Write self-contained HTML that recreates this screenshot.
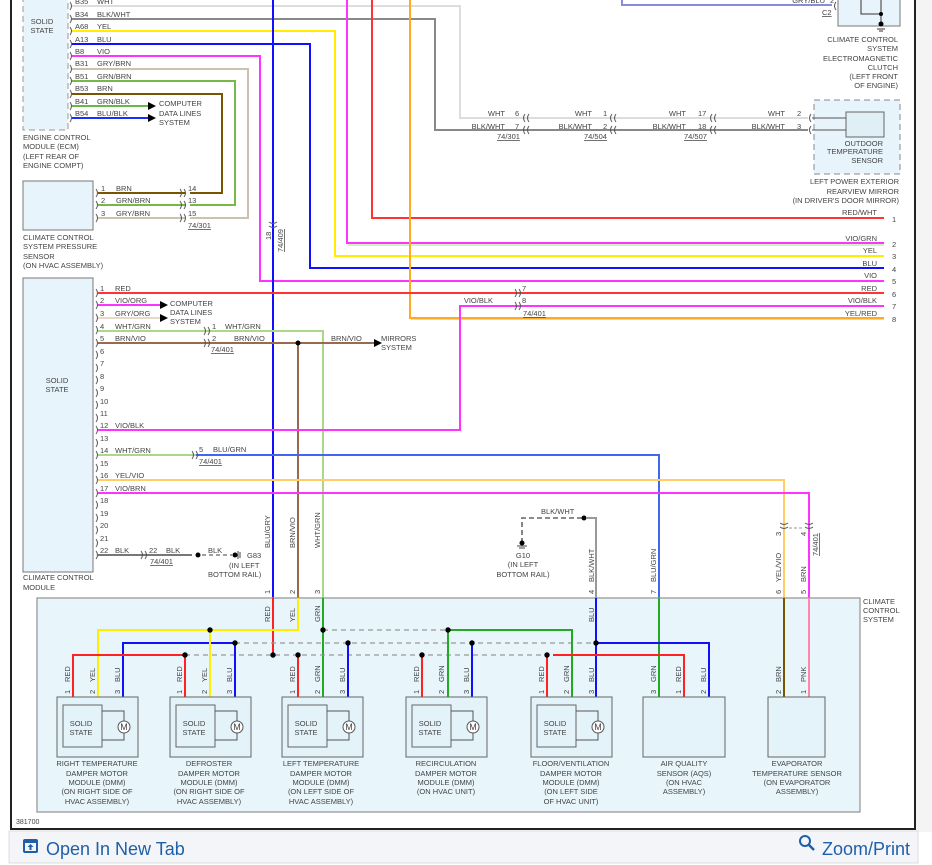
<!DOCTYPE html>
<html><head><meta charset="utf-8"><style>
html,body{margin:0;padding:0;background:#fff;width:932px;height:865px;overflow:hidden}
svg{display:block}
text{font-family:"Liberation Sans",sans-serif;font-size:7.5px;fill:#444}
.r{text-anchor:end}.m{text-anchor:middle}
.w{fill:none;stroke-width:2}
.c{fill:none;stroke:#555;stroke-width:1}
.d{fill:none;stroke:#999;stroke-width:1.3;stroke-dasharray:5,4}
.u{text-decoration:underline}
</style></head><body>
<svg width="932" height="865" viewBox="0 0 932 865" xmlns="http://www.w3.org/2000/svg">
<rect x="0" y="0" width="932" height="865" fill="#fff"/>
<rect x="915" y="0" width="17" height="832" fill="#f4f4f4"/>
<!-- frame -->
<path d="M11,0 V829 H915 V0" fill="none" stroke="#222" stroke-width="2"/>
<rect x="9" y="831" width="909" height="32" fill="#f3f5f9" stroke="#ddd"/>
<g fill="#1f5fa8"><rect x="24" y="840" width="13" height="12" rx="1" fill="none" stroke="#1f5fa8" stroke-width="2"/><rect x="24" y="840" width="13" height="3"/><path d="M30.5,844 l-3,3 h2 v3 h2 v-3 h2z"/></g>
<text x="46" y="855" style="font-size:18px;fill:#1f5fa8">Open In New Tab</text>
<circle cx="805" cy="841" r="5" fill="none" stroke="#1f5fa8" stroke-width="2"/><path d="M809,845 l5,5" stroke="#1f5fa8" stroke-width="2.5"/>
<text x="910" y="855" class="r" style="font-size:18px;fill:#1f5fa8">Zoom/Print</text>
<text x="16" y="824" style="font-size:7px">381700</text>

<!-- ECM -->
<rect x="23" y="-2" width="45" height="132" fill="#e8f4fb" stroke="#999" stroke-dasharray="6,4"/>
<text x="42" y="24" class="m">SOLID</text><text x="42" y="33" class="m">STATE</text>
<text x="23" y="140">ENGINE CONTROL</text><text x="23" y="149">MODULE (ECM)</text><text x="23" y="159">(LEFT REAR OF</text><text x="23" y="168">ENGINE COMPT)</text>
<!-- ECM wires -->
<path class="w" stroke="#ddd" d="M72,6 H460 V118 H808"/>
<path class="w" stroke="#888" d="M72,19 H435 V130 H808"/>
<path class="w" stroke="#ffee00" d="M72,31 H335 V256 H884"/>
<path class="w" stroke="#1010ff" d="M72,44 H310 V268 H884"/>
<path class="w" stroke="#ff33ff" d="M72,56 H260 V281 H884"/>
<path class="w" stroke="#cbc2b0" d="M72,69 H248 V218 H190"/>
<path class="w" stroke="#78b848" d="M72,81 H235 V205 H190"/>
<path class="w" stroke="#7a5500" d="M72,94 H222 V193 H190"/>
<path class="w" stroke="#66b848" d="M72,106 H148"/><path d="M148,102 l8,4 l-8,4z" fill="#000"/>
<path class="w" stroke="#1530ff" d="M72,118 H148"/><path d="M148,114 l8,4 l-8,4z" fill="#000"/>
<g class="c">
<path d="M70,2 q3,4 0,8"/><path d="M70,15 q3,4 0,8"/><path d="M70,27 q3,4 0,8"/><path d="M70,40 q3,4 0,8"/><path d="M70,52 q3,4 0,8"/><path d="M70,65 q3,4 0,8"/><path d="M70,77 q3,4 0,8"/><path d="M70,90 q3,4 0,8"/><path d="M70,102 q3,4 0,8"/><path d="M70,114 q3,4 0,8"/>
</g>
<text x="75" y="4">B35</text><text x="97" y="4">WHT</text>
<text x="75" y="17">B34</text><text x="97" y="17">BLK/WHT</text>
<text x="75" y="29">A68</text><text x="97" y="29">YEL</text>
<text x="75" y="42">A13</text><text x="97" y="42">BLU</text>
<text x="75" y="54">B8</text><text x="97" y="54">VIO</text>
<text x="75" y="66">B31</text><text x="97" y="66">GRY/BRN</text>
<text x="75" y="79">B51</text><text x="97" y="79">GRN/BRN</text>
<text x="75" y="91">B53</text><text x="97" y="91">BRN</text>
<text x="75" y="104">B41</text><text x="97" y="104">GRN/BLK</text>
<text x="75" y="116">B54</text><text x="97" y="116">BLU/BLK</text>
<text x="159" y="106">COMPUTER</text><text x="159" y="116">DATA LINES</text><text x="159" y="125">SYSTEM</text>

<!-- pressure sensor -->
<rect x="23" y="181" width="70" height="49" fill="#e8f4fb" stroke="#777"/>
<path class="w" stroke="#7a5500" d="M98,193 H186"/>
<path class="w" stroke="#78b848" d="M98,205 H186"/>
<path class="w" stroke="#cbc2b0" d="M98,218 H186"/>
<g class="c"><path d="M96,189 q3,4 0,8"/><path d="M96,201 q3,4 0,8"/><path d="M96,214 q3,4 0,8"/>
<path d="M180,189 q3,4 0,8 M184,189 q3,4 0,8"/><path d="M180,201 q3,4 0,8 M184,201 q3,4 0,8"/><path d="M180,214 q3,4 0,8 M184,214 q3,4 0,8"/></g>
<text x="101" y="191">1</text><text x="116" y="191">BRN</text>
<text x="101" y="203">2</text><text x="116" y="203">GRN/BRN</text>
<text x="101" y="216">3</text><text x="116" y="216">GRY/BRN</text>
<text x="188" y="191">14</text><text x="188" y="203">13</text><text x="188" y="216">15</text>
<text x="188" y="228" class="u">74/301</text>
<text x="23" y="240">CLIMATE CONTROL</text><text x="23" y="249">SYSTEM PRESSURE</text><text x="23" y="259">SENSOR</text><text x="23" y="268">(ON HVAC ASSEMBLY)</text>

<!-- long verticals from top -->
<path class="w" stroke="#1010ff" d="M273,0 V598"/>
<path class="c" d="M269,222 q4,3 8,0 M269,226 q4,3 8,0"/>
<text transform="translate(271,240) rotate(-90)">18</text>
<text transform="translate(283,252) rotate(-90)" class="u">74/409</text>
<path class="w" stroke="#ff33ff" d="M347,0 V243 H884"/>
<path stroke="#88dd66" stroke-width="0.8" d="M348,245 H884"/>
<path class="w" stroke="#ff3333" d="M372,0 V218 H884"/>
<path class="w" stroke="#ffaa22" d="M410,0 V318 H884"/>
<path stroke="#ffee00" stroke-width="1" d="M411,319.5 H884"/>
<!-- clutch -->
<path class="w" stroke="#8a8ae0" d="M622,0 V5 H832"/>
<text x="825" y="3" class="r">GRY/BLU</text><text x="830" y="3">2</text>
<path class="c" d="M836,2 q-3,4 0,8"/>
<text x="822" y="15" class="u">C2</text>
<rect x="838" y="-2" width="62" height="28" fill="#e8f4fb" stroke="#777"/>
<path d="M861,0 V14 H881 M881,-2 V22" stroke="#333" fill="none"/><circle cx="881" cy="14" r="2" fill="#000"/><circle cx="881" cy="24" r="2.5" fill="#000"/>
<path d="M877,29 h8 M879,31 h4" stroke="#333"/>
<text x="898" y="42" class="r">CLIMATE CONTROL</text><text x="898" y="51" class="r">SYSTEM</text><text x="898" y="61" class="r">ELECTROMAGNETIC</text><text x="898" y="70" class="r">CLUTCH</text><text x="898" y="79" class="r">(LEFT FRONT</text><text x="898" y="88" class="r">OF ENGINE)</text>

<!-- outdoor temp sensor chain -->
<g class="c">
<path d="M525,114 q-3,4 0,8 M529,114 q-3,4 0,8 M525,126 q-3,4 0,8 M529,126 q-3,4 0,8"/>
<path d="M612,114 q-3,4 0,8 M616,114 q-3,4 0,8 M612,126 q-3,4 0,8 M616,126 q-3,4 0,8"/>
<path d="M712,114 q-3,4 0,8 M716,114 q-3,4 0,8 M712,126 q-3,4 0,8 M716,126 q-3,4 0,8"/>
<path d="M811,114 q-3,4 0,8 M811,126 q-3,4 0,8"/>
</g>
<rect x="814" y="100" width="86" height="74" fill="#e8f4fb" stroke="#888" stroke-dasharray="6,4"/>
<rect x="846" y="112" width="38" height="25" fill="#e0eef6" stroke="#666"/>
<path d="M812,118 H846 M812,130 H846" stroke="#555"/>
<text x="505" y="116" class="r">WHT</text><text x="515" y="116">6</text><text x="505" y="129" class="r">BLK/WHT</text><text x="515" y="129">7</text><text x="497" y="139" class="u">74/301</text>
<text x="592" y="116" class="r">WHT</text><text x="603" y="116">1</text><text x="592" y="129" class="r">BLK/WHT</text><text x="603" y="129">2</text><text x="584" y="139" class="u">74/504</text>
<text x="686" y="116" class="r">WHT</text><text x="698" y="116">17</text><text x="686" y="129" class="r">BLK/WHT</text><text x="698" y="129">18</text><text x="684" y="139" class="u">74/507</text>
<text x="785" y="116" class="r">WHT</text><text x="797" y="116">2</text><text x="785" y="129" class="r">BLK/WHT</text><text x="797" y="129">3</text>
<text x="883" y="146" class="r">OUTDOOR</text><text x="883" y="154" class="r">TEMPERATURE</text><text x="883" y="163" class="r">SENSOR</text>
<text x="899" y="184" class="r">LEFT POWER EXTERIOR</text><text x="899" y="194" class="r">REARVIEW MIRROR</text><text x="899" y="203" class="r">(IN DRIVER'S DOOR MIRROR)</text>

<!-- right side labels -->
<text x="877" y="215" class="r">RED/WHT</text><text x="892" y="222">1</text>
<text x="877" y="241" class="r">VIO/GRN</text><text x="892" y="247">2</text>
<text x="877" y="253" class="r">YEL</text><text x="892" y="259">3</text>
<text x="877" y="266" class="r">BLU</text><text x="892" y="272">4</text>
<text x="877" y="278" class="r">VIO</text><text x="892" y="284">5</text>
<text x="877" y="291" class="r">RED</text><text x="892" y="297">6</text>
<text x="877" y="303" class="r">VIO/BLK</text><text x="892" y="309">7</text>
<text x="877" y="316" class="r">YEL/RED</text><text x="892" y="322">8</text>

<!-- CCM -->
<rect x="23" y="278" width="70" height="294" fill="#e8f4fb" stroke="#777"/>
<text x="57" y="383" class="m">SOLID</text><text x="57" y="392" class="m">STATE</text>
<text x="23" y="580">CLIMATE CONTROL</text><text x="23" y="590">MODULE</text>
<path class="w" stroke="#ff3333" d="M98,293 H884"/>
<path class="w" stroke="#ff33ff" d="M98,305 H162"/><path d="M160,301 l8,4 l-8,4z" fill="#000"/>
<path class="w" stroke="#e8d8c8" d="M98,318 H162"/><path d="M160,314 l8,4 l-8,4z" fill="#000"/>
<path class="w" stroke="#a8d888" d="M98,331 H323 V598"/>
<path class="w" stroke="#9a6a50" d="M98,343 H376"/><path d="M374,339 l8,4 l-8,4z" fill="#000"/>
<path class="w" stroke="#9a6a50" d="M298,343 V598"/><circle cx="298" cy="343" r="2.5" fill="#000"/>
<path class="w" stroke="#ff33ff" d="M98,430 H460 V306 H884"/>
<path class="w" stroke="#a8d888" d="M98,455 H196"/><path class="w" stroke="#4466ee" d="M196,455 H659 V598"/>
<path class="w" stroke="#ffcc66" d="M98,480 H784 V598"/>
<path class="w" stroke="#ff33ff" d="M98,493 H809 V598"/>
<path class="w" stroke="#777" d="M98,555 H192"/><circle cx="198" cy="555" r="2.5" fill="#000"/>
<path d="M202,555 H232" stroke="#666" stroke-width="1.3" stroke-dasharray="4,3"/><circle cx="235" cy="555" r="2.5" fill="#000"/><path d="M238,551 v8 M240,552 v6" stroke="#444"/>
<g class="c">
<path d="M96,289 q3,4 0,8 M96,301 q3,4 0,8 M96,314 q3,4 0,8 M96,326 q3,4 0,8 M96,339 q3,4 0,8 M96,351 q3,4 0,8 M96,364 q3,4 0,8 M96,376 q3,4 0,8 M96,389 q3,4 0,8 M96,401 q3,4 0,8 M96,414 q3,4 0,8 M96,426 q3,4 0,8 M96,439 q3,4 0,8 M96,451 q3,4 0,8 M96,464 q3,4 0,8 M96,476 q3,4 0,8 M96,489 q3,4 0,8 M96,501 q3,4 0,8 M96,514 q3,4 0,8 M96,526 q3,4 0,8 M96,539 q3,4 0,8 M96,551 q3,4 0,8"/>
<path d="M204,327 q3,4 0,8 M208,327 q3,4 0,8 M204,339 q3,4 0,8 M208,339 q3,4 0,8"/>
<path d="M192,451 q3,4 0,8 M196,451 q3,4 0,8"/>
<path d="M141,551 q3,4 0,8 M145,551 q3,4 0,8"/>
<path d="M515,289 q3,4 0,8 M519,289 q3,4 0,8 M515,302 q3,4 0,8 M519,302 q3,4 0,8"/>
</g>
<text x="100" y="291">1</text><text x="100" y="303">2</text><text x="100" y="316">3</text><text x="100" y="329">4</text><text x="100" y="341">5</text><text x="100" y="354">6</text><text x="100" y="366">7</text><text x="100" y="379">8</text><text x="100" y="391">9</text><text x="100" y="404">10</text><text x="100" y="416">11</text><text x="100" y="428">12</text><text x="100" y="441">13</text><text x="100" y="453">14</text><text x="100" y="466">15</text><text x="100" y="478">16</text><text x="100" y="491">17</text><text x="100" y="503">18</text><text x="100" y="516">19</text><text x="100" y="528">20</text><text x="100" y="541">21</text><text x="100" y="553">22</text>
<text x="115" y="291">RED</text><text x="115" y="303">VIO/ORG</text><text x="115" y="316">GRY/ORG</text><text x="115" y="329">WHT/GRN</text><text x="115" y="341">BRN/VIO</text><text x="115" y="428">VIO/BLK</text><text x="115" y="453">WHT/GRN</text><text x="115" y="478">YEL/VIO</text><text x="115" y="491">VIO/BRN</text><text x="115" y="553">BLK</text>
<text x="170" y="306">COMPUTER</text><text x="170" y="315">DATA LINES</text><text x="170" y="324">SYSTEM</text>
<text x="212" y="329">1</text><text x="225" y="329">WHT/GRN</text><text x="212" y="341">2</text><text x="234" y="341">BRN/VIO</text><text x="211" y="352" class="u">74/401</text>
<text x="331" y="341">BRN/VIO</text><text x="381" y="341">MIRRORS</text><text x="381" y="350">SYSTEM</text>
<text x="199" y="452">5</text><text x="213" y="452">BLU/GRN</text><text x="199" y="464" class="u">74/401</text>
<text x="149" y="553">22</text><text x="166" y="553">BLK</text><text x="150" y="564" class="u">74/401</text><text x="208" y="553">BLK</text>
<text x="247" y="558">G83</text><text x="229" y="568">(IN LEFT</text><text x="208" y="577">BOTTOM RAIL)</text>
<text x="522" y="291">7</text><text x="522" y="303">8</text><text x="493" y="303" class="r">VIO/BLK</text><text x="523" y="316" class="u">74/401</text>
<text transform="translate(270,548) rotate(-90)">BLU/GRY</text>
<text transform="translate(295,548) rotate(-90)">BRN/VIO</text>
<text transform="translate(320,548) rotate(-90)">WHT/GRN</text>

<!-- G10 -->
<path d="M522,543 V518 H584" stroke="#666" stroke-width="1.6" fill="none" stroke-dasharray="5,3"/>
<circle cx="584" cy="518" r="2.5" fill="#000"/><circle cx="522" cy="543" r="2.5" fill="#000"/>
<path d="M517,546 h10 M519,548 h6" stroke="#444"/>
<path class="w" stroke="#999" d="M587,518 H596 V598" stroke-width="1.5"/>
<text x="541" y="514">BLK/WHT</text>
<text x="523" y="558" class="m">G10</text><text x="523" y="567" class="m">(IN LEFT</text><text x="523" y="577" class="m">BOTTOM RAIL)</text>
<text transform="translate(594,582) rotate(-90)">BLK/WHT</text>
<text transform="translate(656,582) rotate(-90)">BLU/GRN</text>
<text transform="translate(781,582) rotate(-90)">YEL/VIO</text>
<text transform="translate(806,582) rotate(-90)">BRN</text>
<path class="c" d="M780,523 q4,3 8,0 M780,527 q4,3 8,0 M805,523 q4,3 8,0 M805,527 q4,3 8,0"/>
<path d="M789,528 H804" stroke="#999" stroke-dasharray="3,2"/>
<text transform="translate(781,536) rotate(-90)">3</text><text transform="translate(806,536) rotate(-90)">4</text>
<text transform="translate(818,556) rotate(-90)" class="u">74/401</text>
<text transform="translate(270,594) rotate(-90)">1</text><text transform="translate(295,594) rotate(-90)">2</text><text transform="translate(320,594) rotate(-90)">3</text><text transform="translate(594,594) rotate(-90)">4</text><text transform="translate(656,594) rotate(-90)">7</text><text transform="translate(781,594) rotate(-90)">6</text><text transform="translate(806,594) rotate(-90)">5</text>

<!-- Climate control system box -->
<rect x="37" y="598" width="823" height="214" fill="#e8f5fb" stroke="#999" stroke-width="1.3"/>
<text x="863" y="604">CLIMATE</text><text x="863" y="613">CONTROL</text><text x="863" y="622">SYSTEM</text>
<!-- top entries inside -->
<path class="w" stroke="#ff2222" d="M273,598 V655"/>
<path class="w" stroke="#ffee00" d="M298,598 V630 H98 V697"/>
<path class="w" stroke="#22aa22" d="M323,598 V697"/>
<path class="w" stroke="#1010ff" d="M596,598 V697"/>
<path class="w" stroke="#22aa22" d="M659,598 V697"/>
<path class="w" stroke="#7a5500" d="M784,598 V697"/>
<path class="w" stroke="#ff88aa" d="M809,598 V697"/>
<text transform="translate(270,622) rotate(-90)">RED</text><text transform="translate(295,622) rotate(-90)">YEL</text><text transform="translate(320,622) rotate(-90)">GRN</text><text transform="translate(594,622) rotate(-90)">BLU</text>
<!-- buses -->
<path class="d" d="M235,643 H596 M185,655 H547 M323,630 H448"/>
<path class="w" stroke="#1010ff" d="M123,697 V643 H235"/>
<path class="w" stroke="#ff2222" d="M73,697 V655 H185"/>
<path class="w" stroke="#ffee00" d="M210,630 V697"/>
<path class="w" stroke="#1010ff" d="M235,643 V697 M348,643 V697 M472,643 V697"/>
<path class="w" stroke="#ff2222" d="M185,655 V697 M298,655 V697 M422,655 V697 M547,655 V697"/>
<path class="w" stroke="#22aa22" d="M448,697 V630 H572 V697"/>
<path class="w" stroke="#1010ff" d="M596,643 H709 V697"/>
<path class="w" stroke="#ff2222" d="M553,655 H684 V697"/>
<g fill="#000"><circle cx="210" cy="630" r="2.7"/><circle cx="235" cy="643" r="2.7"/><circle cx="185" cy="655" r="2.7"/><circle cx="273" cy="655" r="2.7"/><circle cx="298" cy="655" r="2.7"/><circle cx="323" cy="630" r="2.7"/><circle cx="348" cy="643" r="2.7"/><circle cx="448" cy="630" r="2.7"/><circle cx="422" cy="655" r="2.7"/><circle cx="472" cy="643" r="2.7"/><circle cx="547" cy="655" r="2.7"/><circle cx="596" cy="643" r="2.7"/></g>
<!-- pin labels at modules -->
<g>
<text transform="translate(70,682) rotate(-90)">RED</text><text transform="translate(95,682) rotate(-90)">YEL</text><text transform="translate(120,682) rotate(-90)">BLU</text>
<text transform="translate(182,682) rotate(-90)">RED</text><text transform="translate(207,682) rotate(-90)">YEL</text><text transform="translate(232,682) rotate(-90)">BLU</text>
<text transform="translate(295,682) rotate(-90)">RED</text><text transform="translate(320,682) rotate(-90)">GRN</text><text transform="translate(345,682) rotate(-90)">BLU</text>
<text transform="translate(419,682) rotate(-90)">RED</text><text transform="translate(444,682) rotate(-90)">GRN</text><text transform="translate(469,682) rotate(-90)">BLU</text>
<text transform="translate(544,682) rotate(-90)">RED</text><text transform="translate(569,682) rotate(-90)">GRN</text><text transform="translate(594,682) rotate(-90)">BLU</text>
<text transform="translate(656,682) rotate(-90)">GRN</text><text transform="translate(681,682) rotate(-90)">RED</text><text transform="translate(706,682) rotate(-90)">BLU</text>
<text transform="translate(781,682) rotate(-90)">BRN</text><text transform="translate(806,682) rotate(-90)">PNK</text>
<text transform="translate(70,694) rotate(-90)">1</text><text transform="translate(95,694) rotate(-90)">2</text><text transform="translate(120,694) rotate(-90)">3</text>
<text transform="translate(182,694) rotate(-90)">1</text><text transform="translate(207,694) rotate(-90)">2</text><text transform="translate(232,694) rotate(-90)">3</text>
<text transform="translate(295,694) rotate(-90)">1</text><text transform="translate(320,694) rotate(-90)">2</text><text transform="translate(345,694) rotate(-90)">3</text>
<text transform="translate(419,694) rotate(-90)">1</text><text transform="translate(444,694) rotate(-90)">2</text><text transform="translate(469,694) rotate(-90)">3</text>
<text transform="translate(544,694) rotate(-90)">1</text><text transform="translate(569,694) rotate(-90)">2</text><text transform="translate(594,694) rotate(-90)">3</text>
<text transform="translate(656,694) rotate(-90)">3</text><text transform="translate(681,694) rotate(-90)">1</text><text transform="translate(706,694) rotate(-90)">2</text>
<text transform="translate(781,694) rotate(-90)">2</text><text transform="translate(806,694) rotate(-90)">1</text>
</g>
<!-- modules -->
<g stroke="#666" fill="#e4f2f9">
<rect x="57" y="697" width="81" height="60"/><rect x="63" y="705" width="39" height="42"/>
<rect x="170" y="697" width="81" height="60"/><rect x="176" y="705" width="39" height="42"/>
<rect x="282" y="697" width="81" height="60"/><rect x="288" y="705" width="39" height="42"/>
<rect x="406" y="697" width="81" height="60"/><rect x="412" y="705" width="39" height="42"/>
<rect x="531" y="697" width="81" height="60"/><rect x="537" y="705" width="39" height="42"/>
<rect x="643" y="697" width="82" height="60"/><rect x="768" y="697" width="57" height="60"/>
</g>
<g stroke="#555" fill="none">
<path d="M102,711 H124 V740 H102"/><circle cx="124" cy="727" r="6" fill="#fff"/>
<path d="M215,711 H237 V740 H215"/><circle cx="237" cy="727" r="6" fill="#fff"/>
<path d="M327,711 H349 V740 H327"/><circle cx="349" cy="727" r="6" fill="#fff"/>
<path d="M451,711 H473 V740 H451"/><circle cx="473" cy="727" r="6" fill="#fff"/>
<path d="M576,711 H598 V740 H576"/><circle cx="598" cy="727" r="6" fill="#fff"/>
</g>
<g style="font-size:9px"><text x="124" y="730" class="m" style="font-size:9px">M</text><text x="237" y="730" class="m" style="font-size:9px">M</text><text x="349" y="730" class="m" style="font-size:9px">M</text><text x="473" y="730" class="m" style="font-size:9px">M</text><text x="598" y="730" class="m" style="font-size:9px">M</text></g>
<text x="81" y="726" class="m">SOLID</text><text x="81" y="735" class="m">STATE</text>
<text x="194" y="726" class="m">SOLID</text><text x="194" y="735" class="m">STATE</text>
<text x="306" y="726" class="m">SOLID</text><text x="306" y="735" class="m">STATE</text>
<text x="430" y="726" class="m">SOLID</text><text x="430" y="735" class="m">STATE</text>
<text x="555" y="726" class="m">SOLID</text><text x="555" y="735" class="m">STATE</text>
<!-- module labels -->
<text x="97" y="766" class="m">RIGHT TEMPERATURE</text><text x="97" y="776" class="m">DAMPER MOTOR</text><text x="97" y="785" class="m">MODULE (DMM)</text><text x="97" y="794" class="m">(ON RIGHT SIDE OF</text><text x="97" y="804" class="m">HVAC ASSEMBLY)</text>
<text x="209" y="766" class="m">DEFROSTER</text><text x="209" y="776" class="m">DAMPER MOTOR</text><text x="209" y="785" class="m">MODULE (DMM)</text><text x="209" y="794" class="m">(ON RIGHT SIDE OF</text><text x="209" y="804" class="m">HVAC ASSEMBLY)</text>
<text x="321" y="766" class="m">LEFT TEMPERATURE</text><text x="321" y="776" class="m">DAMPER MOTOR</text><text x="321" y="785" class="m">MODULE (DMM)</text><text x="321" y="794" class="m">(ON LEFT SIDE OF</text><text x="321" y="804" class="m">HVAC ASSEMBLY)</text>
<text x="446" y="766" class="m">RECIRCULATION</text><text x="446" y="776" class="m">DAMPER MOTOR</text><text x="446" y="785" class="m">MODULE (DMM)</text><text x="446" y="794" class="m">(ON HVAC UNIT)</text>
<text x="571" y="766" class="m">FLOOR/VENTILATION</text><text x="571" y="776" class="m">DAMPER MOTOR</text><text x="571" y="785" class="m">MODULE (DMM)</text><text x="571" y="794" class="m">(ON LEFT SIDE</text><text x="571" y="804" class="m">OF HVAC UNIT)</text>
<text x="684" y="766" class="m">AIR QUALITY</text><text x="684" y="776" class="m">SENSOR (AQS)</text><text x="684" y="785" class="m">(ON HVAC</text><text x="684" y="794" class="m">ASSEMBLY)</text>
<text x="797" y="766" class="m">EVAPORATOR</text><text x="797" y="776" class="m">TEMPERATURE SENSOR</text><text x="797" y="785" class="m">(ON EVAPORATOR</text><text x="797" y="794" class="m">ASSEMBLY)</text>
</svg>
</body></html>
